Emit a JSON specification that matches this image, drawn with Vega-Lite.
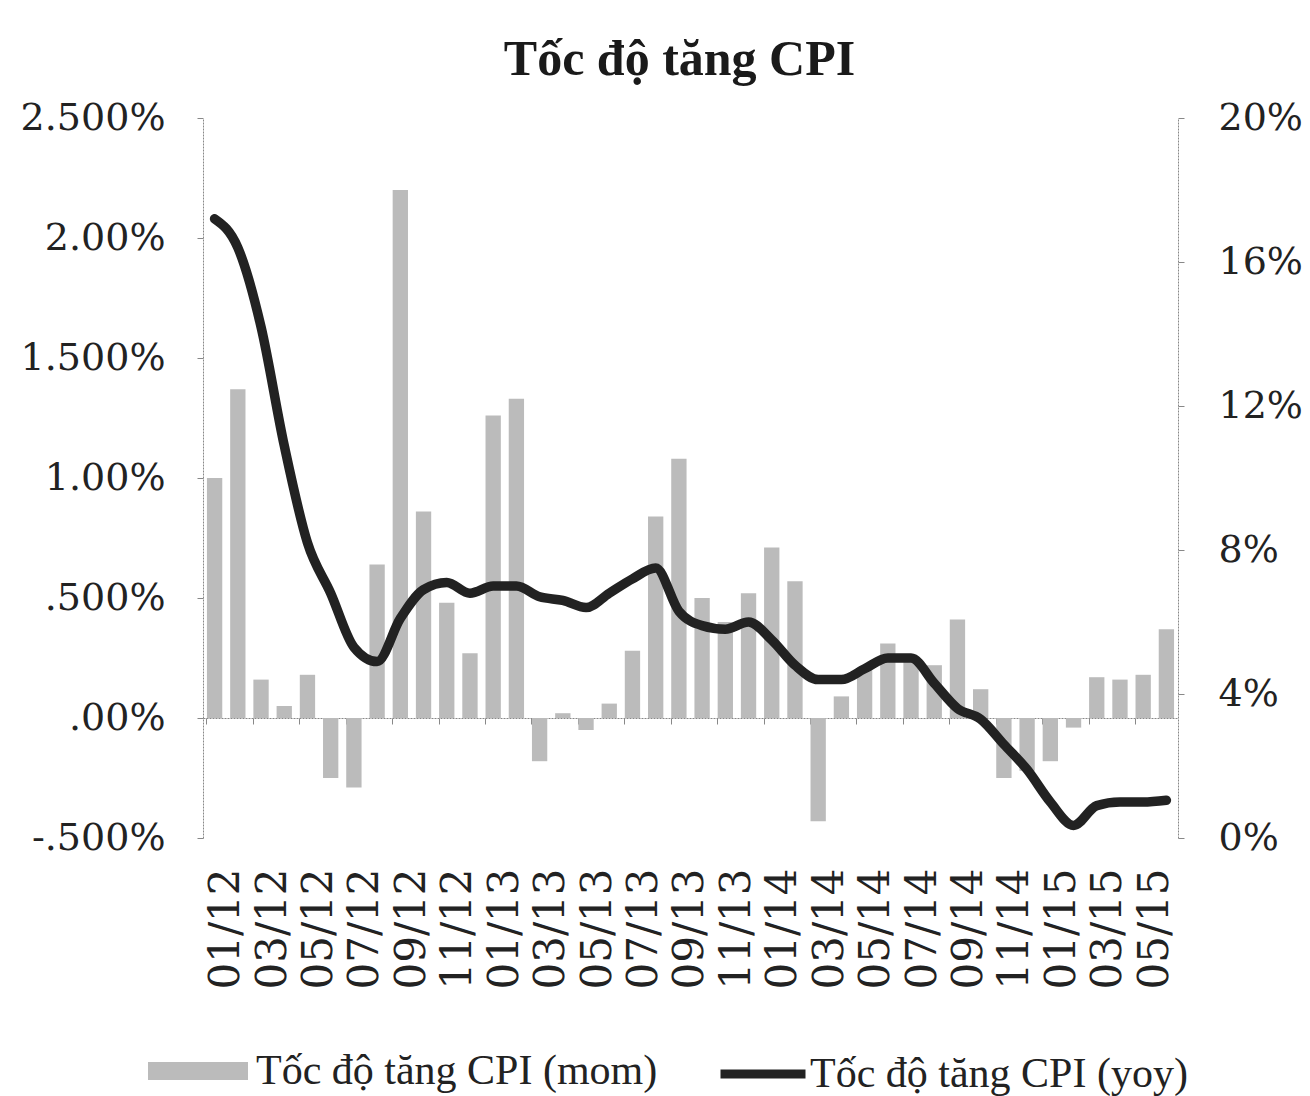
{
  "$schema": "https://vega.github.io/schema/vega-lite/v6.json",
  "width": 975,
  "height": 720,
  "autosize": {"type": "none"},
  "padding": {"left": 203, "top": 118, "right": 132, "bottom": 258},
  "background": "white",
  "title": {
    "text": "Tốc độ tăng CPI",
    "font": "Liberation Serif",
    "fontSize": 50,
    "fontWeight": "bold",
    "color": "#1a1a1a",
    "frame": "group",
    "anchor": "middle",
    "baseline": "alphabetic",
    "offset": -26,
    "dx": -11
  },
  "data": {
    "values": [
      {"month": "01/12", "mom": 1.00, "yoy": 17.2},
      {"month": "02/12", "mom": 1.37, "yoy": 16.4},
      {"month": "03/12", "mom": 0.16, "yoy": 14.2},
      {"month": "04/12", "mom": 0.05, "yoy": 10.9},
      {"month": "05/12", "mom": 0.18, "yoy": 8.2},
      {"month": "06/12", "mom": -0.25, "yoy": 6.8},
      {"month": "07/12", "mom": -0.29, "yoy": 5.3},
      {"month": "08/12", "mom": 0.64, "yoy": 4.9},
      {"month": "09/12", "mom": 2.20, "yoy": 6.1},
      {"month": "10/12", "mom": 0.86, "yoy": 6.9},
      {"month": "11/12", "mom": 0.48, "yoy": 7.1},
      {"month": "12/12", "mom": 0.27, "yoy": 6.8},
      {"month": "01/13", "mom": 1.26, "yoy": 7.0},
      {"month": "02/13", "mom": 1.33, "yoy": 7.0},
      {"month": "03/13", "mom": -0.18, "yoy": 6.7},
      {"month": "04/13", "mom": 0.02, "yoy": 6.6},
      {"month": "05/13", "mom": -0.05, "yoy": 6.4},
      {"month": "06/13", "mom": 0.06, "yoy": 6.8},
      {"month": "07/13", "mom": 0.28, "yoy": 7.2},
      {"month": "08/13", "mom": 0.84, "yoy": 7.5},
      {"month": "09/13", "mom": 1.08, "yoy": 6.3},
      {"month": "10/13", "mom": 0.50, "yoy": 5.9},
      {"month": "11/13", "mom": 0.40, "yoy": 5.8},
      {"month": "12/13", "mom": 0.52, "yoy": 6.0},
      {"month": "01/14", "mom": 0.71, "yoy": 5.5},
      {"month": "02/14", "mom": 0.57, "yoy": 4.8},
      {"month": "03/14", "mom": -0.43, "yoy": 4.4},
      {"month": "04/14", "mom": 0.09, "yoy": 4.4},
      {"month": "05/14", "mom": 0.21, "yoy": 4.7},
      {"month": "06/14", "mom": 0.31, "yoy": 5.0},
      {"month": "07/14", "mom": 0.24, "yoy": 5.0},
      {"month": "08/14", "mom": 0.22, "yoy": 4.3},
      {"month": "09/14", "mom": 0.41, "yoy": 3.6},
      {"month": "10/14", "mom": 0.12, "yoy": 3.3},
      {"month": "11/14", "mom": -0.25, "yoy": 2.6},
      {"month": "12/14", "mom": -0.22, "yoy": 1.9},
      {"month": "01/15", "mom": -0.18, "yoy": 1.0},
      {"month": "02/15", "mom": -0.04, "yoy": 0.35},
      {"month": "03/15", "mom": 0.17, "yoy": 0.9},
      {"month": "04/15", "mom": 0.16, "yoy": 1.0},
      {"month": "05/15", "mom": 0.18, "yoy": 1.0},
      {"month": "06/15", "mom": 0.37, "yoy": 1.05}
    ]
  },
  "encoding": {
    "x": {
      "field": "month",
      "type": "ordinal",
      "sort": null,
      "scale": {"paddingInner": 0.34, "paddingOuter": 0.17},
      "axis": {
        "orient": "bottom",
        "offset": -120,
        "values": ["01/12", "03/12", "05/12", "07/12", "09/12", "11/12", "01/13", "03/13", "05/13", "07/13", "09/13", "11/13", "01/14", "03/14", "05/14", "07/14", "09/14", "11/14", "01/15", "03/15", "05/15"],
        "bandPosition": 0,
        "labelOffset": 11.6,
        "labelAngle": -90,
        "labelAlign": "right",
        "labelBaseline": "middle",
        "labelFont": "DejaVu Serif",
        "labelFontSize": 42,
        "labelColor": "#222222",
        "labelPadding": 144,
        "labelOverlap": false,
        "tickSize": 6,
        "tickColor": "#888888",
        "domainColor": "#888888",
        "domainDash": [2, 1],
        "title": null,
        "grid": false
      }
    }
  },
  "layer": [
    {
      "mark": {"type": "bar"},
      "encoding": {
        "y": {
          "field": "mom",
          "type": "quantitative",
          "scale": {"domain": [-0.5, 2.5], "nice": false, "zero": false},
          "axis": {
            "orient": "left",
            "values": [-0.5, 0, 0.5, 1, 1.5, 2, 2.5],
            "labelExpr": "datum.value == 2.5 ? '2.500%' : datum.value == 2 ? '2.00%' : datum.value == 1.5 ? '1.500%' : datum.value == 1 ? '1.00%' : datum.value == 0.5 ? '.500%' : datum.value == 0 ? '.00%' : '-.500%'",
            "labelFont": "DejaVu Serif",
            "labelFontSize": 38,
            "labelColor": "#222222",
            "labelPadding": 32,
            "labelOverlap": false,
            "tickSize": 6,
            "tickColor": "#888888",
            "domainColor": "#888888",
            "domainDash": [2, 1],
            "grid": false,
            "title": null
          }
        },
        "fill": {
          "datum": "Tốc độ tăng CPI (mom)",
          "scale": {"range": ["#bbbbbb"]},
          "legend": {
            "orient": "none",
            "legendX": -55,
            "legendY": 903,
            "title": null,
            "padding": 0,
            "symbolType": "M-1,-0.18H1V0.18H-1Z",
            "symbolSize": 10000,
            "symbolStrokeWidth": 0,
            "labelFont": "Liberation Serif",
            "labelFontSize": 42,
            "labelColor": "#222222",
            "labelOffset": 8,
            "labelLimit": 600
          }
        }
      }
    },
    {
      "mark": {"type": "line", "strokeWidth": 9.5, "interpolate": "monotone", "strokeCap": "round", "strokeJoin": "round"},
      "encoding": {
        "y": {
          "field": "yoy",
          "type": "quantitative",
          "scale": {"domain": [0, 20], "nice": false},
          "axis": {
            "orient": "right",
            "values": [0, 4, 8, 12, 16, 20],
            "labelExpr": "datum.value + '%'",
            "labelFont": "DejaVu Serif",
            "labelFontSize": 38,
            "labelColor": "#222222",
            "labelPadding": 34,
            "labelOverlap": false,
            "tickSize": 6,
            "tickColor": "#888888",
            "domainColor": "#888888",
            "domainDash": [2, 1],
            "grid": false,
            "title": null
          }
        },
        "stroke": {
          "datum": "Tốc độ tăng CPI (yoy)",
          "scale": {"range": ["#222222"]},
          "legend": {
            "orient": "none",
            "legendX": 513,
            "legendY": 909,
            "title": null,
            "padding": 0,
            "symbolType": "stroke",
            "symbolSize": 7225,
            "symbolStrokeWidth": 9,
            "labelFont": "Liberation Serif",
            "labelFontSize": 42,
            "labelColor": "#222222",
            "labelOffset": 0,
            "labelLimit": 600
          }
        }
      }
    }
  ],
  "resolve": {"scale": {"y": "independent"}},
  "config": {"view": {"stroke": null}}
}
